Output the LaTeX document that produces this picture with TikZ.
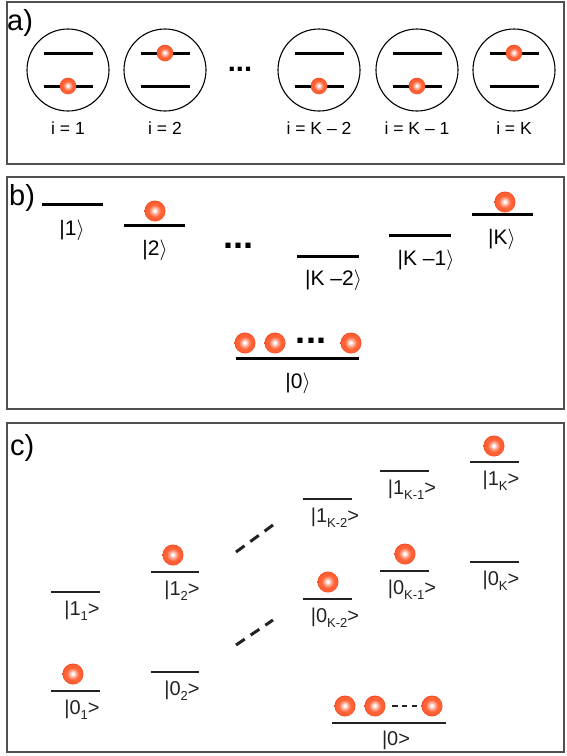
\documentclass[tikz,border=0pt]{standalone}
\usepackage{fontspec}
\setmainfont{Liberation Sans}
\definecolor{ballmid}{RGB}{255,96,52}
\definecolor{ballout}{RGB}{240,70,30}
\definecolor{framec}{RGB}{80,80,80}
\definecolor{linec}{RGB}{34,34,34}
\pgfdeclareradialshading{orangeball}{\pgfpoint{-1bp}{1bp}}{color(0bp)=(white); color(2.5bp)=(white); color(7bp)=(white!55!ballmid); color(15bp)=(ballmid); color(22bp)=(ballmid); color(25bp)=(ballout); color(50bp)=(ballout)}
\newcommand\myball[3]{\shade[shading=orangeball] (#1,#2) circle (#3pt);}
\tikzset{
  frame/.style={draw=framec, line width=1.4pt},
  lvl/.style={line width=3pt, draw=black},
  lvlc/.style={line width=1.8pt, draw=linec},
  atom/.style={draw=black, line width=1.1pt},
  lbl/.style={font=\fontsize{17.5}{20}\selectfont, anchor=base, inner sep=0pt},
  ketb/.style={font=\fontsize{21}{24}\selectfont, anchor=base, inner sep=0pt},
  ketc/.style={font=\fontsize{20}{24}\selectfont, anchor=base, inner sep=0pt, text=linec},
  panel/.style={font=\fontsize{29}{30}\selectfont, anchor=base west, inner sep=0pt},
  dotsa/.style={font=\fontsize{29}{30}\selectfont\bfseries, anchor=base, inner sep=0pt},
  dotsb/.style={font=\fontsize{36}{36}\selectfont\bfseries, anchor=base, inner sep=0pt},
  diagdash/.style={line width=3pt, draw=linec, dash pattern=on 10.5pt off 7.2pt},
  smalldash/.style={line width=2pt, draw=linec, dash pattern=on 5.5pt off 4.25pt}
}
\newcommand\sbs[1]{\raisebox{-0.28em}{\fontsize{13}{14}\selectfont #1}}
\begin{document}
\begin{tikzpicture}[x=1pt,y=-1pt]
\useasboundingbox (0,0) rectangle (566,756);
% ---------------- panel a
\draw[frame] (7,2) rectangle (564,164);
\node[panel] (pa) at (7,30) {a)};
\foreach \cx/\up in {68/0,165/1,319/0,417/0,514/1}{
  \draw[atom] (\cx,70) circle (41pt);
  \draw[lvl] (\cx-24.5,53) -- (\cx+24.5,53);
  \draw[lvl] (\cx-24.5,86) -- (\cx+24.5,86);
  \ifnum\up=1 \myball{\cx}{53}{8.3}\else\myball{\cx}{86}{8.3}\fi
}
\node[dotsa] (da) at (240,71.7) {...};
\node[lbl] (i1) at (68,134) {i = 1};
\node[lbl] (i2) at (165,134) {i = 2};
\node[lbl] (ik2) at (319,134) {i = K – 2};
\node[lbl] (ik1) at (417,134) {i = K – 1};
\node[lbl] (ik) at (514,134) {i = K};
% ---------------- panel b
\draw[frame] (7,177) rectangle (564,409);
\node[panel] (pb) at (9,205) {b)};
\draw[lvl] (42,204) -- (103,204);
\node[ketb] (b1) at (72,235) {|1$\rangle$};
\draw[lvl] (124,225) -- (185,225);
\myball{155}{211}{10.5}
\node[ketb] (b2) at (155,255) {|2$\rangle$};
\node[dotsb] (db) at (238.5,248.3) {...};
\draw[lvl] (297,256) -- (359,256);
\node[ketb] (bk2) at (333.5,285) {|K –2$\rangle$};
\draw[lvl] (389,235) -- (451,235);
\node[ketb] (bk1) at (426,265) {|K –1$\rangle$};
\draw[lvl] (472,214) -- (533,214);
\myball{505}{202}{10.5}
\node[ketb] (bk) at (502,244) {|K$\rangle$};
\draw[lvl] (236,358) -- (359,358);
\myball{245}{343}{10.5}
\myball{275}{343}{10.5}
\myball{351}{343}{10.5}
\node[dotsb] (db0) at (311,343.5) {...};
\node[ketb] (b0) at (298,388) {|0$\rangle$};
% ---------------- panel c
\draw[frame] (7,423) rectangle (564,752);
\node[panel] (pc) at (10,455) {c)};
\draw[lvlc] (51,592) -- (100,592);
\node[ketc] (c11) at (82,615) {|1\sbs{1}>};
\draw[lvlc] (51,691) -- (100,691);
\myball{73}{674}{10.5}
\node[ketc] (c01) at (82,714) {|0\sbs{1}>};
\draw[lvlc] (151,572) -- (199,572);
\myball{173}{555}{10.5}
\node[ketc] (c12) at (182,595) {|1\sbs{2}>};
\draw[lvlc] (151,672) -- (199,672);
\node[ketc] (c02) at (182,695) {|0\sbs{2}>};
\draw[diagdash] (236,552) -- (273,525);
\draw[diagdash] (236,645) -- (273,620);
\draw[lvlc] (303,499) -- (352,499);
\node[ketc] (c1k2) at (335,522) {|1\sbs{K-2}>};
\draw[lvlc] (303,599) -- (352,599);
\myball{328}{582}{10.5}
\node[ketc] (c0k2) at (335,622) {|0\sbs{K-2}>};
\draw[lvlc] (380,471) -- (429,471);
\node[ketc] (c1k1) at (412,494) {|1\sbs{K-1}>};
\draw[lvlc] (380,571) -- (429,571);
\myball{405}{554}{10.5}
\node[ketc] (c0k1) at (412,594) {|0\sbs{K-1}>};
\draw[lvlc] (470,462) -- (519,462);
\myball{494}{446}{10.5}
\node[ketc] (c1k) at (501,485) {|1\sbs{K}>};
\draw[lvlc] (470,562) -- (519,562);
\node[ketc] (c0k) at (501,585) {|0\sbs{K}>};
\draw[lvlc] (332,723) -- (446,723);
\myball{345}{706}{10.5}
\myball{375}{706}{10.5}
\myball{432}{706}{10.5}
\draw[smalldash] (392,706) -- (417,706);
\node[ketc] (c0) at (396,745) {|0>};
\end{tikzpicture}
\end{document}
